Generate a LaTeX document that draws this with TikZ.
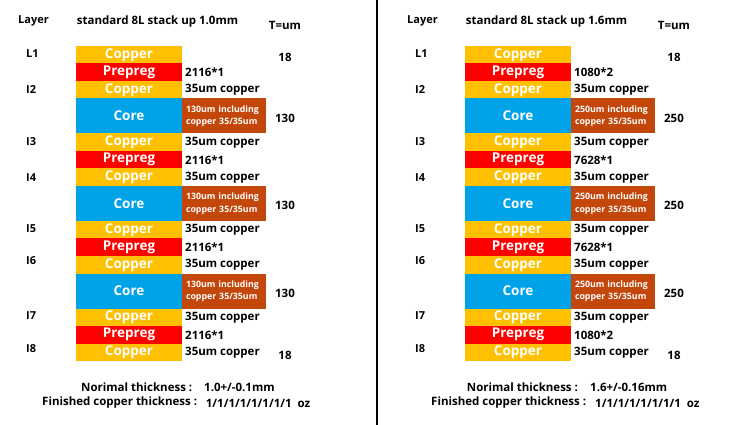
\documentclass[tikz,border=0pt]{standalone}
\usepackage{fontspec}
\setmainfont{Open Sans}
\definecolor{cu}{HTML}{FFC000}
\definecolor{pp}{HTML}{FF0000}
\definecolor{corec}{HTML}{00A2E8}
\definecolor{cb}{HTML}{C3470B}
\tikzset{
  layerbox/.style={draw=none, minimum width=106pt, inner sep=0pt, text=white,
    font=\bfseries\fontsize{13.5}{14}\selectfont},
  cul/.style={layerbox, fill=cu, minimum height=17.5pt},
  ppl/.style={layerbox, fill=pp, minimum height=17.5pt},
  corel/.style={layerbox, fill=corec, minimum height=35pt},
  cbox/.style={draw=none, fill=cb, minimum height=35pt, text width=76pt, inner xsep=4pt, inner ysep=0pt,
    align=left, text=white, font=\bfseries\fontsize{8.8}{12.5}\selectfont},
  lbl/.style={anchor=west, inner sep=0pt, font=\bfseries\fontsize{11.5}{12}\selectfont},
  num/.style={inner sep=0pt, font=\bfseries\fontsize{11.5}{12}\selectfont},
  lyr/.style={anchor=west, inner sep=0pt, font=\bfseries\fontsize{11}{12}\selectfont},
}
\newcommand\stackup[9]{%
\begin{scope}[xshift=#2pt]
  \node[lyr] (#1hl) at (18,21) {Layer};
  \node[lbl] (#1ht) at (76.7,22) {#3};
  \node[num] (#1hu) at (285,25) {T=um};
  % layers
  \node[cul]   (#1r1)  at (129,54.75)  {Copper};
  \node[ppl]   (#1r2)  at (129,72.25)  {Prepreg};
  \node[cul]   (#1r3)  at (129,89.75)  {Copper};
  \node[corel] (#1r4)  at (129,116)    {Core};
  \node[cul]   (#1r5)  at (129,142.25) {Copper};
  \node[ppl]   (#1r6)  at (129,159.75) {Prepreg};
  \node[cul]   (#1r7)  at (129,177.25) {Copper};
  \node[corel] (#1r8)  at (129,203.5)  {Core};
  \node[cul]   (#1r9)  at (129,229.75) {Copper};
  \node[ppl]   (#1r10) at (129,247.25) {Prepreg};
  \node[cul]   (#1r11) at (129,264.75) {Copper};
  \node[corel] (#1r12) at (129,291)    {Core};
  \node[cul]   (#1r13) at (129,317.25) {Copper};
  \node[ppl]   (#1r14) at (129,334.75) {Prepreg};
  \node[cul]   (#1r15) at (129,352.25) {Copper};
  % core boxes
  \node[cbox] (#1b1) at (224,116)  {#8um including\\copper 35/35um};
  \node[cbox] (#1b2) at (224,203.5) {#8um including\\copper 35/35um};
  \node[cbox] (#1b3) at (224,291)  {#8um including\\copper 35/35um};
  % labels
  \node[lbl] (#1t2)  at (185,72.25)  {#4};
  \node[lbl] (#1t3)  at (185,89.75)  {35um copper};
  \node[lbl] (#1t5)  at (185,142.25) {35um copper};
  \node[lbl] (#1t6)  at (185,159.75) {#5};
  \node[lbl] (#1t7)  at (185,177.25) {35um copper};
  \node[lbl] (#1t9)  at (185,229.75) {35um copper};
  \node[lbl] (#1t10) at (185,247.25) {#6};
  \node[lbl] (#1t11) at (185,264.75) {35um copper};
  \node[lbl] (#1t13) at (185,317.25) {35um copper};
  \node[lbl] (#1t14) at (185,334.75) {#7};
  \node[lbl] (#1t15) at (185,352.25) {35um copper};
  % thickness
  \node[num] (#1n1) at (285,57)  {18};
  \node[num] (#1n2) at (285,118) {#8};
  \node[num] (#1n3) at (285,205) {#8};
  \node[num] (#1n4) at (285,293) {#8};
  \node[num] (#1n5) at (285,355) {18};
  % layer names
  \node[lyr] (#1l1) at (26,54)  {L1};
  \node[lyr] (#1l2) at (26,90)  {I2};
  \node[lyr] (#1l3) at (26,142) {I3};
  \node[lyr] (#1l4) at (26,178) {I4};
  \node[lyr] (#1l5) at (26,229) {I5};
  \node[lyr] (#1l6) at (26,261) {I6};
  \node[lyr] (#1l7) at (26,316) {I7};
  \node[lyr] (#1l8) at (26,349) {I8};
\end{scope}}
\begin{document}
\begin{tikzpicture}[x=1pt,y=-1pt]
\useasboundingbox (0,0) rectangle (737,425);
\fill[white] (0,0) rectangle (737,425);
\stackup{a}{0}{standard 8L stack up 1.0mm}{2116*1}{2116*1}{2116*1}{2116*1}{130}{}
\stackup{b}{389}{standard 8L stack up 1.6mm}{1080*2}{7628*1}{7628*1}{1080*2}{250}{}
\draw[line width=2pt] (376.5,0) -- (376.5,425);
% bottom texts
\node[lbl] (an) at (81,387) {Norimal thickness :};
\node[lbl] (anv) at (204,387) {1.0+/-0.1mm};
\node[lbl] (af) at (42,403) {Finished copper thickness :};
\node[lbl] (afv) at (205.7,403) {1/1/1/1/1/1/1/1\ \ oz};
\node[lbl] (bn) at (466.7,387) {Norimal thickness :};
\node[lbl] (bnv) at (590,387) {1.6+/-0.16mm};
\node[lbl] (bf) at (431,403) {Finished copper thickness :};
\node[lbl] (bfv) at (595,403) {1/1/1/1/1/1/1/1\ \ oz};
\end{tikzpicture}
\end{document}
